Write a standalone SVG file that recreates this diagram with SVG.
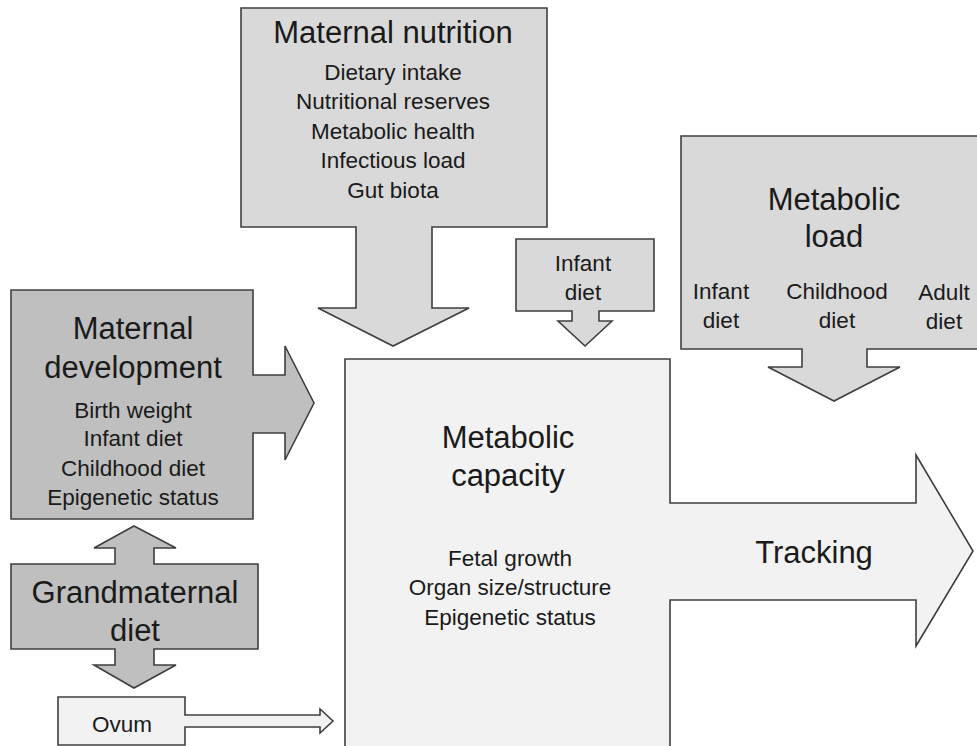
<svg xmlns="http://www.w3.org/2000/svg" width="977" height="746" viewBox="0 0 977 746">
<style>
.s{stroke:#3f3f3f;stroke-width:1.6;stroke-linejoin:miter}
.dark{fill:#bfbfbf}
.mid{fill:#d9d9d9}
.light{fill:#f2f2f2}
text{font-family:"Liberation Sans",Arial,sans-serif;fill:#1a1a1a;text-anchor:middle;dominant-baseline:central}
.t{font-size:31px}
.tg{font-size:31px}
.b{font-size:22.5px}
</style>
<rect width="977" height="746" fill="#ffffff"/>
<g id="metabolic-capacity">
<polygon class="s light" points="345,359 670,359 670,503 916,503 916,455 973,551 916,646 916,600 670,600 670,752 345,752"/>
<text class="t" x="508" y="437">Metabolic</text>
<text class="t" x="508" y="475">capacity</text>
<text class="b" x="510" y="558">Fetal growth</text>
<text class="b" x="510" y="587">Organ size/structure</text>
<text class="b" x="510" y="617">Epigenetic status</text>
<text class="t" x="814" y="552">Tracking</text>
</g>
<g id="maternal-nutrition">
<polygon class="s mid" points="241,8 547,8 547,227 432,227 432,308 469,308 393,346 318,308 356,308 356,227 241,227"/>
<text class="t" x="393" y="32">Maternal nutrition</text>
<text class="b" x="393" y="72">Dietary intake</text>
<text class="b" x="393" y="101">Nutritional reserves</text>
<text class="b" x="393" y="131">Metabolic health</text>
<text class="b" x="393" y="160">Infectious load</text>
<text class="b" x="393" y="190">Gut biota</text>
</g>
<g id="infant-diet">
<polygon class="s mid" points="516,239 654,239 654,311 599,311 599,321 612,321 585,346 558,321 572,321 572,311 516,311"/>
<text class="b" x="583" y="263">Infant</text>
<text class="b" x="583" y="292">diet</text>
</g>
<g id="metabolic-load">
<polygon class="s mid" points="681,136 980,136 980,349 867,349 867,367 900,367 834,401 768,367 802,367 802,349 681,349"/>
<text class="t" x="834" y="199">Metabolic</text>
<text class="t" x="834" y="236">load</text>
<text class="b" x="721" y="291">Infant</text>
<text class="b" x="721" y="320">diet</text>
<text class="b" x="837" y="291">Childhood</text>
<text class="b" x="837" y="320">diet</text>
<text class="b" x="944" y="292">Adult</text>
<text class="b" x="944" y="321">diet</text>
</g>
<g id="maternal-development">
<polygon class="s dark" points="11,290 253,290 253,375 285,375 285,346 314,403 285,460 285,433 253,433 253,519 11,519"/>
<text class="t" x="133" y="328">Maternal</text>
<text class="t" x="133" y="367">development</text>
<text class="b" x="133" y="410">Birth weight</text>
<text class="b" x="133" y="438">Infant diet</text>
<text class="b" x="133" y="468">Childhood diet</text>
<text class="b" x="133" y="497">Epigenetic status</text>
</g>
<g id="grandmaternal-diet">
<polygon class="s dark" points="134,526 176,548 154,548 154,564 258,564 258,649 154,649 154,665 176,665 134,688 94,665 115,665 115,649 11,649 11,564 115,564 115,548 94,548"/>
<text class="tg" x="135" y="592">Grandmaternal</text>
<text class="tg" x="135" y="630">diet</text>
</g>
<g id="ovum">
<polygon class="s light" points="58,697 185,697 185,715 320,715 320,709 333,721 320,733 320,727 185,727 185,745 58,745"/>
<text class="b" x="122" y="724">Ovum</text>
</g>
<g id="connectors"></g>
</svg>
